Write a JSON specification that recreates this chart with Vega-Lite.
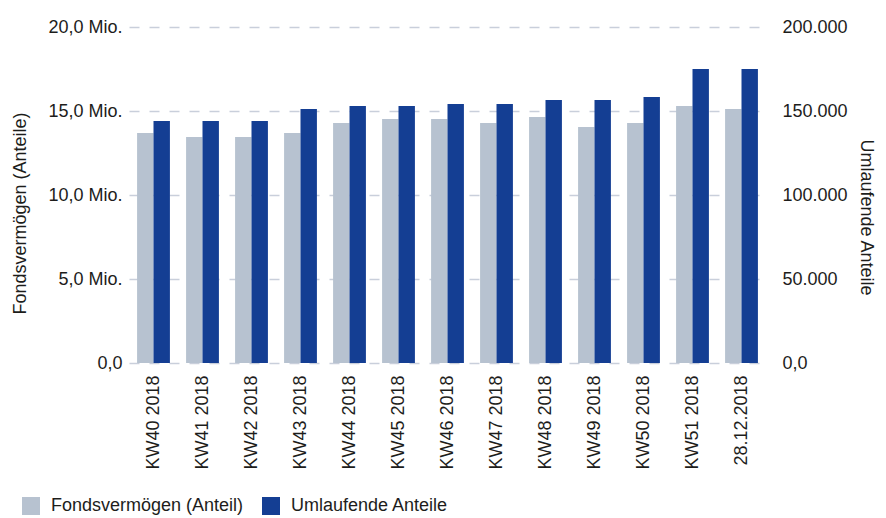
{
  "$schema": "https://vega.github.io/schema/vega-lite/v6.json",
  "width": 637,
  "height": 336,
  "autosize": {"type": "none"},
  "padding": {"left": 129, "top": 27, "right": 120, "bottom": 155},
  "background": "white",
  "config": {
    "view": {"stroke": null},
    "font": "Liberation Sans",
    "axis": {
      "labelFont": "Liberation Sans",
      "titleFont": "Liberation Sans",
      "labelFontSize": 18,
      "titleFontSize": 18,
      "titleFontWeight": "normal",
      "labelColor": "#1d1d1b",
      "titleColor": "#1d1d1b",
      "domain": false,
      "ticks": false
    }
  },
  "data": {
    "values": [
      {"week": "KW40 2018", "series": "Fondsvermögen (Anteil)", "value": 13690000},
      {"week": "KW41 2018", "series": "Fondsvermögen (Anteil)", "value": 13450000},
      {"week": "KW42 2018", "series": "Fondsvermögen (Anteil)", "value": 13450000},
      {"week": "KW43 2018", "series": "Fondsvermögen (Anteil)", "value": 13690000},
      {"week": "KW44 2018", "series": "Fondsvermögen (Anteil)", "value": 14290000},
      {"week": "KW45 2018", "series": "Fondsvermögen (Anteil)", "value": 14520000},
      {"week": "KW46 2018", "series": "Fondsvermögen (Anteil)", "value": 14520000},
      {"week": "KW47 2018", "series": "Fondsvermögen (Anteil)", "value": 14290000},
      {"week": "KW48 2018", "series": "Fondsvermögen (Anteil)", "value": 14640000},
      {"week": "KW49 2018", "series": "Fondsvermögen (Anteil)", "value": 14050000},
      {"week": "KW50 2018", "series": "Fondsvermögen (Anteil)", "value": 14290000},
      {"week": "KW51 2018", "series": "Fondsvermögen (Anteil)", "value": 15300000},
      {"week": "28.12.2018", "series": "Fondsvermögen (Anteil)", "value": 15120000},
      {"week": "KW40 2018", "series": "Umlaufende Anteile", "value": 144000},
      {"week": "KW41 2018", "series": "Umlaufende Anteile", "value": 144000},
      {"week": "KW42 2018", "series": "Umlaufende Anteile", "value": 144000},
      {"week": "KW43 2018", "series": "Umlaufende Anteile", "value": 151200},
      {"week": "KW44 2018", "series": "Umlaufende Anteile", "value": 153000},
      {"week": "KW45 2018", "series": "Umlaufende Anteile", "value": 153000},
      {"week": "KW46 2018", "series": "Umlaufende Anteile", "value": 154200},
      {"week": "KW47 2018", "series": "Umlaufende Anteile", "value": 154200},
      {"week": "KW48 2018", "series": "Umlaufende Anteile", "value": 156500},
      {"week": "KW49 2018", "series": "Umlaufende Anteile", "value": 156500},
      {"week": "KW50 2018", "series": "Umlaufende Anteile", "value": 158300},
      {"week": "KW51 2018", "series": "Umlaufende Anteile", "value": 175000},
      {"week": "28.12.2018", "series": "Umlaufende Anteile", "value": 175000}
    ]
  },
  "encoding": {
    "x": {
      "field": "week",
      "type": "nominal",
      "sort": null,
      "scale": {"paddingInner": 0.33, "paddingOuter": 0.165},
      "axis": {"title": null, "labelAngle": -90, "labelPadding": 12, "grid": false}
    },
    "xOffset": {
      "field": "series",
      "type": "nominal",
      "sort": ["Fondsvermögen (Anteil)", "Umlaufende Anteile"]
    },
    "color": {
      "field": "series",
      "type": "nominal",
      "scale": {
        "domain": ["Fondsvermögen (Anteil)", "Umlaufende Anteile"],
        "range": ["#b7c2d0", "#143e93"]
      },
      "legend": {
        "title": null,
        "orient": "none",
        "legendX": -107,
        "legendY": 470,
        "direction": "horizontal",
        "symbolType": "square",
        "symbolSize": 324,
        "symbolStrokeWidth": 0,
        "symbolOpacity": 1,
        "labelFont": "Liberation Sans",
        "labelFontSize": 18,
        "labelColor": "#1d1d1b",
        "labelLimit": 400,
        "labelOffset": 11,
        "columnPadding": 18
      }
    }
  },
  "layer": [
    {
      "transform": [{"filter": "datum.series === 'Fondsvermögen (Anteil)'"}],
      "mark": {"type": "bar"},
      "encoding": {
        "y": {
          "field": "value",
          "type": "quantitative",
          "scale": {"domain": [0, 20000000]},
          "axis": {
            "orient": "left",
            "values": [0, 5000000, 10000000, 15000000, 20000000],
            "labelExpr": "datum.value === 0 ? '0,0' : replace(format(datum.value / 1000000, '.1f'), '.', ',') + ' Mio.'",
            "labelPadding": 7,
            "grid": true,
            "gridDash": [10, 10],
            "gridColor": "#c9cfdb",
            "gridWidth": 1.5,
            "title": "Fondsvermögen (Anteile)",
            "titleAngle": -90,
            "titleX": -109,
            "titleY": 186,
            "titleAlign": "center",
            "titleBaseline": "middle"
          }
        }
      }
    },
    {
      "transform": [{"filter": "datum.series === 'Umlaufende Anteile'"}],
      "mark": {"type": "bar"},
      "encoding": {
        "y": {
          "field": "value",
          "type": "quantitative",
          "scale": {"domain": [0, 200000]},
          "axis": {
            "orient": "right",
            "values": [0, 50000, 100000, 150000, 200000],
            "labelExpr": "datum.value === 0 ? '0,0' : replace(format(datum.value, ','), ',', '.')",
            "labelPadding": 16,
            "grid": false,
            "title": "Umlaufende Anteile",
            "titleAngle": 90,
            "titleX": 99,
            "titleY": 190,
            "titleAlign": "center",
            "titleBaseline": "middle"
          }
        }
      }
    }
  ],
  "resolve": {"scale": {"y": "independent"}}
}
